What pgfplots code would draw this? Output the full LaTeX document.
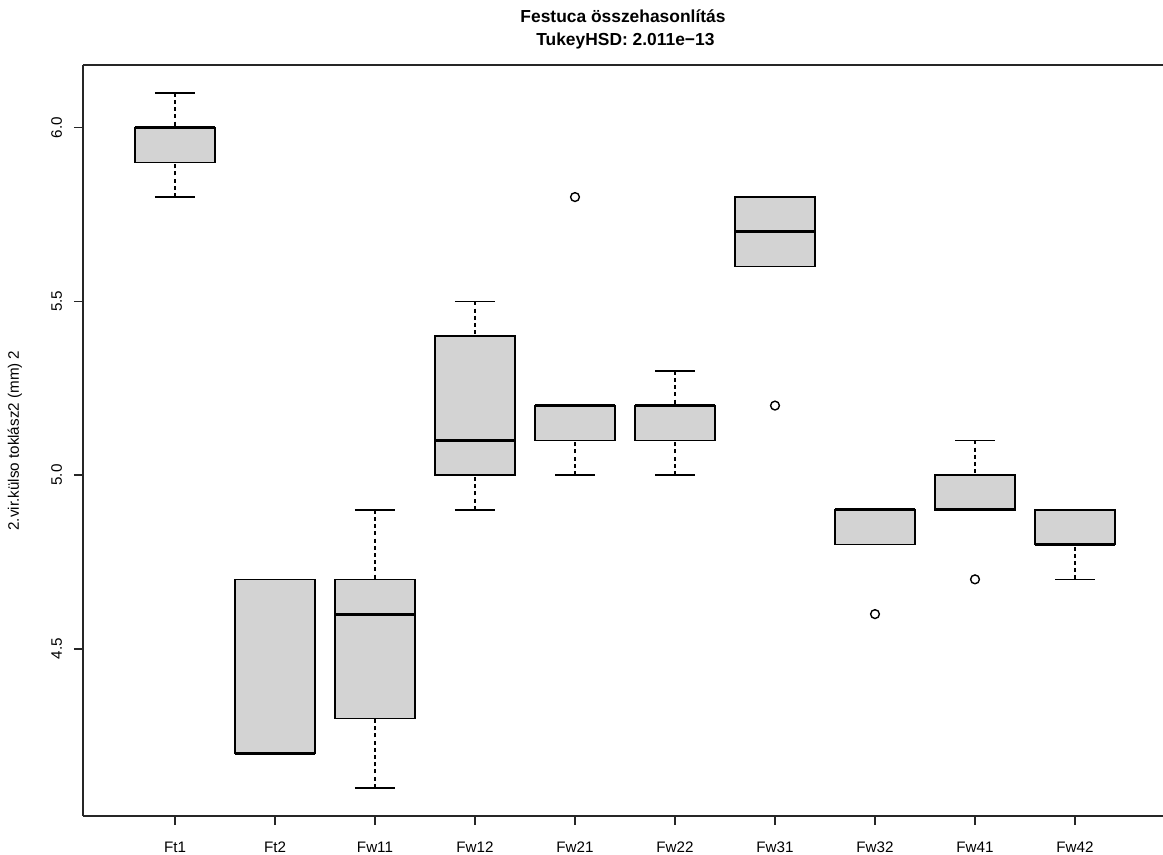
\documentclass[border=0pt]{standalone}
\usepackage{fontspec}
\setmainfont{Liberation Sans}
\usepackage{pgfplots}
\pgfplotsset{compat=1.18}
\usepgfplotslibrary{statistics}
\definecolor{boxgray}{RGB}{211,211,211}
\begin{document}
\begin{tikzpicture}
\begin{axis}[
  name=ax,
  scale only axis,
  width=540pt, height=375.5pt,
  xmin=0.08, xmax=10.88,
  ymin=4.019, ymax=6.18,
  axis x line*=box, axis y line*=left,
  xtick pos=bottom, ytick pos=left,
  axis line style={line width=0.7pt, black!85},
  xtick={1,2,3,4,5,6,7,8,9,10},
  xticklabels={Ft1,Ft2,Fw11,Fw12,Fw21,Fw22,Fw31,Fw32,Fw41,Fw42},
  ytick={4.5,5,5.5,6},
  yticklabels={4.5,5.0,5.5,6.0},
  tick align=outside,
  major tick length=4.5pt,
  tick style={line width=0.7pt, black!85},
  xticklabel style={font=\fontsize{7.6}{9}\selectfont, anchor=base, inner sep=0pt, yshift=-13.5pt},
  yticklabel style={font=\fontsize{7.6}{9}\selectfont, rotate=90, anchor=base, inner sep=0pt},
  yticklabel shift=6pt,
  ylabel={2.vir.külso toklász2 (mm) 2},
  ylabel style={font=\fontsize{7.6}{9}\selectfont, at={(axis description cs:-0.063,0.5)}, anchor=center, inner sep=0pt},
  title={Festuca összehasonlítás\\ \ TukeyHSD: 2.011e−13},
  title style={font=\bfseries\fontsize{8.7}{11.5}\selectfont, align=center, at={(axis description cs:0.5,1)}, anchor=south, inner sep=0pt, yshift=1.5pt},
  boxplot/draw direction=y,
  boxplot/box extend=0.8,
  boxplot/whisker extend=0.4,
  boxplot/every box/.style={draw=black, fill=boxgray, line width=0.7pt},
  boxplot/every median/.style={draw=black, line width=1.5pt},
  boxplot/draw/lower whisker/.code={%
    \draw[black, line width=0.7pt, dash pattern=on 2pt off 1.6pt]
      (boxplot box cs:\pgfplotsboxplotvalue{lower whisker},0.5) --
      (boxplot box cs:\pgfplotsboxplotvalue{lower quartile},0.5);
    \draw[black, line width=0.7pt, solid]
      (boxplot whisker cs:\pgfplotsboxplotvalue{lower whisker},0) --
      (boxplot whisker cs:\pgfplotsboxplotvalue{lower whisker},1);
  },
  boxplot/draw/upper whisker/.code={%
    \draw[black, line width=0.7pt, dash pattern=on 2pt off 1.6pt]
      (boxplot box cs:\pgfplotsboxplotvalue{upper whisker},0.5) --
      (boxplot box cs:\pgfplotsboxplotvalue{upper quartile},0.5);
    \draw[black, line width=0.7pt, solid]
      (boxplot whisker cs:\pgfplotsboxplotvalue{upper whisker},0) --
      (boxplot whisker cs:\pgfplotsboxplotvalue{upper whisker},1);
  },
  every axis plot/.append style={black, mark=o, mark size=2.2pt, mark options={solid, line width=0.7pt}},
]
% Ft1
\addplot[boxplot prepared={draw position=1, lower whisker=5.8, lower quartile=5.9, median=6.0, upper quartile=6.0, upper whisker=6.1}] coordinates {};
% Ft2
\addplot[boxplot prepared={draw position=2, lower whisker=4.2, lower quartile=4.2, median=4.2, upper quartile=4.7, upper whisker=4.7}] coordinates {};
% Fw11
\addplot[boxplot prepared={draw position=3, lower whisker=4.1, lower quartile=4.3, median=4.6, upper quartile=4.7, upper whisker=4.9}] coordinates {};
% Fw12
\addplot[boxplot prepared={draw position=4, lower whisker=4.9, lower quartile=5.0, median=5.1, upper quartile=5.4, upper whisker=5.5}] coordinates {};
% Fw21
\addplot[boxplot prepared={draw position=5, lower whisker=5.0, lower quartile=5.1, median=5.2, upper quartile=5.2, upper whisker=5.2}] table[row sep=\\, y index=0] {5.8\\};
% Fw22
\addplot[boxplot prepared={draw position=6, lower whisker=5.0, lower quartile=5.1, median=5.2, upper quartile=5.2, upper whisker=5.3}] coordinates {};
% Fw31
\addplot[boxplot prepared={draw position=7, lower whisker=5.6, lower quartile=5.6, median=5.7, upper quartile=5.8, upper whisker=5.8}] table[row sep=\\, y index=0] {5.2\\};
% Fw32
\addplot[boxplot prepared={draw position=8, lower whisker=4.8, lower quartile=4.8, median=4.9, upper quartile=4.9, upper whisker=4.9}] table[row sep=\\, y index=0] {4.6\\};
% Fw41
\addplot[boxplot prepared={draw position=9, lower whisker=4.9, lower quartile=4.9, median=4.9, upper quartile=5.0, upper whisker=5.1}] table[row sep=\\, y index=0] {4.7\\};
% Fw42
\addplot[boxplot prepared={draw position=10, lower whisker=4.7, lower quartile=4.8, median=4.8, upper quartile=4.9, upper whisker=4.9}] coordinates {};
\end{axis}
\pgfresetboundingbox
\path ([xshift=-41.5pt,yshift=-19pt]ax.south west) rectangle ([yshift=32.5pt]ax.north east);
\end{tikzpicture}
\end{document}
